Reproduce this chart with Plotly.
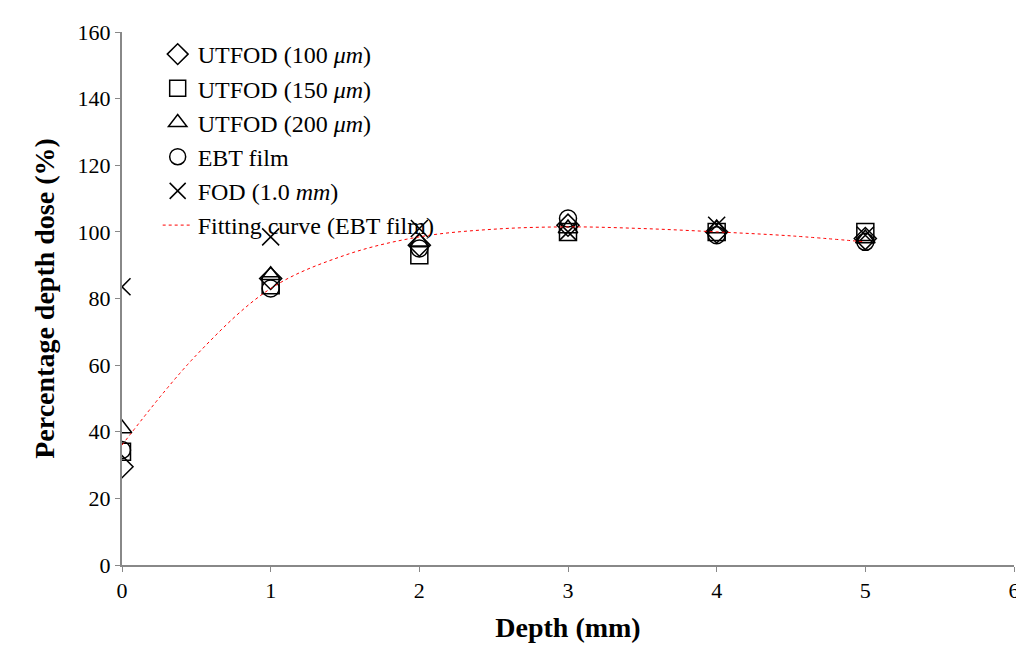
import plotly.graph_objects as go

depth = [0, 1, 2, 3, 4, 5]
utfod100 = [29.5, 86, 96, 102, 100, 98]
utfod150 = [34, 84, 93, 100, 100, 100]
utfod200 = [41, 87, 97, 101, 101, 98]
ebt = [34.5, 83, 95, 104, 99, 97]
fod1mm = [83.5, 98.5, 101, 100, 102, 99]
fit_x = [0, 0.5, 1, 1.5, 2, 2.5, 3, 3.5, 4, 4.5, 5]
fit_y = [36, 63, 83, 93, 98.5, 100.8, 101.5, 101, 100, 98.8, 97]

fig = go.Figure()
def sc(y, sym, name):
    fig.add_trace(go.Scatter(x=depth, y=y, mode="markers", name=name,
        marker=dict(symbol=sym, size=17, color="black",
                    line=dict(color="black", width=1.5))))
sc(utfod100, "diamond-open", "UTFOD (100 <i>μm</i>)")
sc(utfod150, "square-open", "UTFOD (150 <i>μm</i>)")
sc(utfod200, "triangle-up-open", "UTFOD (200 <i>μm</i>)")
sc(ebt, "circle-open", "EBT film")
sc(fod1mm, "x-thin-open", "FOD (1.0 <i>mm</i>)")
fig.add_trace(go.Scatter(x=fit_x, y=fit_y, mode="lines", line_shape="spline",
    name="Fitting curve (EBT film)", line=dict(color="red", width=1, dash="dot")))

fig.update_layout(
    width=1024, height=669, plot_bgcolor="white", paper_bgcolor="white",
    margin=dict(l=114, r=16, t=20, b=112),
    font=dict(family="Liberation Serif", size=22, color="black"),
    legend=dict(orientation="h", x=0.04, y=1.0, xanchor="left", yanchor="top",
                entrywidth=430, entrywidthmode="pixels", bgcolor="rgba(0,0,0,0)",
                font=dict(size=24)),
    xaxis=dict(range=[0, 6], dtick=1, showline=True, linecolor="#888", linewidth=2,
               ticks="outside", tickcolor="#888", showgrid=False, zeroline=False,
               title=dict(text="<b>Depth (mm)</b>", font=dict(size=28))),
    yaxis=dict(range=[0, 160], dtick=20, showline=True, linecolor="#888", linewidth=2,
               ticks="outside", tickcolor="#888", showgrid=False, zeroline=False,
               title=dict(text="<b>Percentage depth dose (%)</b>", font=dict(size=28))),
)
fig.write_html("out.html")
